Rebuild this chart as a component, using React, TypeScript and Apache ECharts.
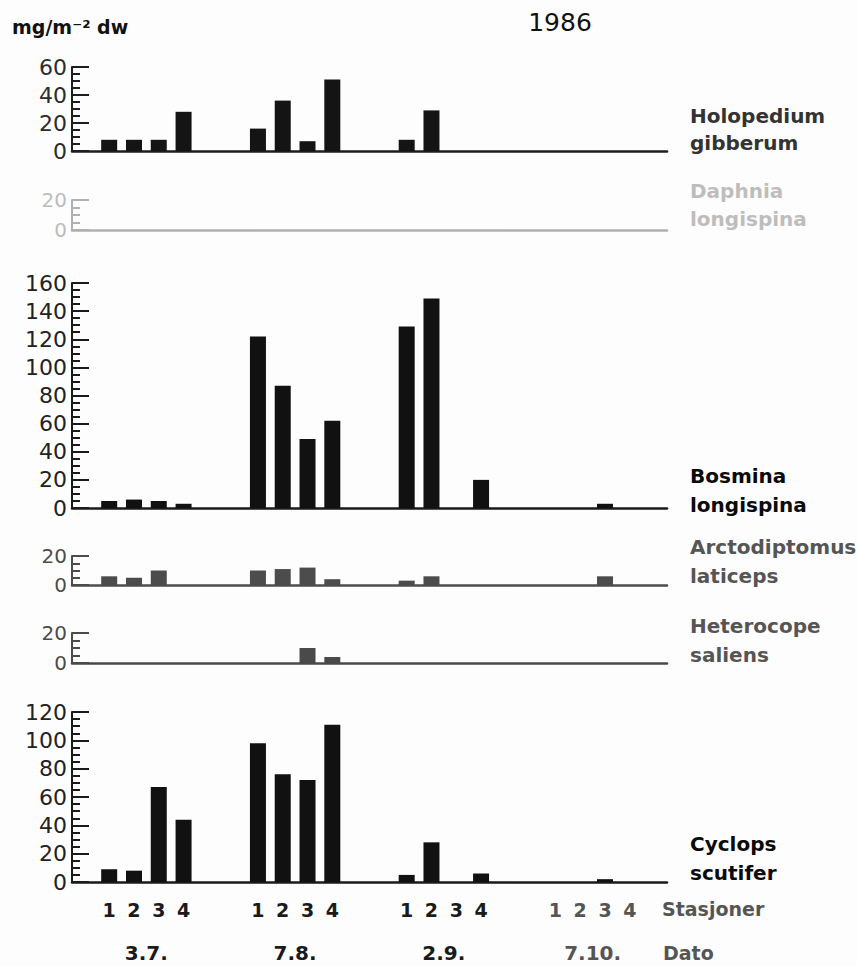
import React, { useEffect, useRef } from "react";
import * as echarts from "echarts";

// Sampling dates and stations
const DATES = ["3.7.", "7.8.", "2.9.", "7.10."];
const STATIONS = ["1", "2", "3", "4"];

// Biomass, mg/m-2 dry weight, one row per date, one value per station
const holopedium = [
  [8, 8, 8, 28],
  [16, 36, 7, 51],
  [8, 29, 0, 0],
  [0, 0, 0, 0],
];
const daphnia = [
  [0, 0, 0, 0],
  [0, 0, 0, 0],
  [0, 0, 0, 0],
  [0, 0, 0, 0],
];
const bosmina = [
  [5, 6, 5, 3],
  [122, 87, 49, 62],
  [129, 149, 0, 20],
  [0, 0, 3, 0],
];
const arctodiptomus = [
  [6, 5, 10, 0],
  [10, 11, 12, 4],
  [3, 6, 0, 0],
  [0, 0, 6, 0],
];
const heterocope = [
  [0, 0, 0, 0],
  [0, 0, 10, 4],
  [0, 0, 0, 0],
  [0, 0, 0, 0],
];
const cyclops = [
  [9, 8, 67, 44],
  [98, 76, 72, 111],
  [5, 28, 0, 6],
  [0, 0, 2, 0],
];

// Y-axis maxima per panel
const Y_MAX = [60, 20, 160, 20, 20, 120];

const FONT = "DejaVu Sans";

// Each date takes six slots: an empty one, four stations, an empty one
const categories: { value: string; textStyle?: any }[] = [];
DATES.forEach((d, di) => {
  const keys = ["pre", ...STATIONS, "post"];
  keys.forEach((k) => {
    categories.push({
      value: `${d}#${k}`,
      textStyle: { color: di === 3 ? "#555" : "#1a1a1a" },
    });
  });
});

const expand = (rows: number[][]) => {
  const out: (number | null)[] = [];
  rows.forEach((r) => {
    out.push(null, ...r, null);
  });
  return out;
};

type Panel = {
  lines: string[];
  data: number[][];
  max: number;
  bar: string;
  axis: string;
  label: string;
  name: string;
  top: number;
  height: number;
  labelSize: number;
};

const panels: Panel[] = [
  { lines: ["Holopedium", "gibberum"], data: holopedium, max: Y_MAX[0], bar: "#141414", axis: "#1e1e1e", label: "#2c2c2c", name: "#333", top: 67, height: 84, labelSize: 22 },
  { lines: ["Daphnia", "longispina"], data: daphnia, max: Y_MAX[1], bar: "#b5b5b5", axis: "#b0b0b0", label: "#bcbcbc", name: "#bdbdbd", top: 200, height: 30, labelSize: 20 },
  { lines: ["Bosmina", "longispina"], data: bosmina, max: Y_MAX[2], bar: "#111", axis: "#1a1a1a", label: "#222", name: "#0a0a0a", top: 283, height: 225, labelSize: 22 },
  { lines: ["Arctodiptomus", "laticeps"], data: arctodiptomus, max: Y_MAX[3], bar: "#4c4c4c", axis: "#4c4c4c", label: "#4c4c4c", name: "#555", top: 556, height: 29, labelSize: 20 },
  { lines: ["Heterocope", "saliens"], data: heterocope, max: Y_MAX[4], bar: "#4a4a4a", axis: "#4a4a4a", label: "#4a4a4a", name: "#555", top: 633, height: 30, labelSize: 20 },
  { lines: ["Cyclops", "scutifer"], data: cyclops, max: Y_MAX[5], bar: "#111", axis: "#1a1a1a", label: "#222", name: "#0a0a0a", top: 712, height: 170, labelSize: 22 },
];

const NAME_Y = [
  [116, 143],
  [191, 219],
  [476, 505],
  [547, 576],
  [626, 655],
  [844, 873],
];

export default function App() {
  const ref = useRef<HTMLDivElement>(null);

  useEffect(() => {
    document.body.style.margin = "0";
    const chart = echarts.init(ref.current!, undefined, { renderer: "svg" });

    const last = panels.length - 1;
    const grids = panels.map((p) => ({
      left: 72,
      right: 190,
      top: p.top,
      height: p.height,
    }));

    const xAxes: any[] = panels.map((p, i) => ({
      type: "category",
      gridIndex: i,
      data: categories,
      boundaryGap: true,
      axisLine: { show: true, lineStyle: { color: p.axis, width: 2.5 } },
      axisTick: { show: false },
      axisLabel:
        i === last
          ? {
              show: true,
              interval: 0,
              margin: 18,
              fontFamily: FONT,
              fontSize: 19,
              fontWeight: "bold",
              formatter: (v: string) => {
                const k = v.split("#")[1];
                return STATIONS.includes(k) ? k : "";
              },
            }
          : { show: false },
    }));
    // Date row under the station numbers
    xAxes.push({
      type: "category",
      gridIndex: last,
      position: "bottom",
      offset: 43,
      data: DATES.map((d, i) => ({
        value: d,
        textStyle: { color: i === 3 ? "#555" : "#1a1a1a" },
      })),
      axisLine: { show: false },
      axisTick: { show: false },
      axisLabel: { interval: 0, margin: 18, fontFamily: FONT, fontSize: 20, fontWeight: "bold" },
    });

    const yAxes = panels.map((p, i) => ({
      type: "value",
      gridIndex: i,
      min: 0,
      max: p.max,
      interval: 20,
      splitLine: { show: false },
      axisLine: { show: true, lineStyle: { color: p.axis, width: 2 } },
      axisTick: { show: true, inside: true, length: 17, lineStyle: { color: p.axis, width: 2 } },
      minorTick: { show: true, splitNumber: 4, length: 8, lineStyle: { color: p.axis, width: 2 } },
      axisLabel: {
        margin: 5,
        color: p.label,
        fontFamily: FONT,
        fontSize: p.labelSize,
      },
    }));

    const series = panels.map((p, i) => ({
      type: "bar",
      xAxisIndex: i,
      yAxisIndex: i,
      data: expand(p.data),
      barWidth: 16,
      itemStyle: { color: p.bar },
      silent: true,
    }));

    const graphic: any[] = [
      {
        type: "text",
        x: 12,
        y: 27,
        style: {
          text: "mg/m⁻² dw",
          fontFamily: FONT,
          fontSize: 19,
          fontWeight: "bold",
          fill: "#111",
          verticalAlign: "middle",
        },
      },
      {
        type: "text",
        x: 560,
        y: 22,
        style: {
          text: "1986",
          fontFamily: FONT,
          fontSize: 25,
          fill: "#111",
          align: "center",
          verticalAlign: "middle",
        },
      },
      {
        type: "text",
        x: 662,
        y: 909,
        style: { text: "Stasjoner", fontFamily: FONT, fontSize: 19, fontWeight: "bold", fill: "#555", verticalAlign: "middle" },
      },
      {
        type: "text",
        x: 663,
        y: 953,
        style: { text: "Dato", fontFamily: FONT, fontSize: 19, fontWeight: "bold", fill: "#555", verticalAlign: "middle" },
      },
    ];
    panels.forEach((p, i) => {
      p.lines.forEach((line, j) => {
        graphic.push({
          type: "text",
          x: 690,
          y: NAME_Y[i][j],
          style: {
            text: line,
            fontFamily: FONT,
            fontSize: 20,
            fontWeight: "bold",
            fill: p.name,
            verticalAlign: "middle",
          },
        });
      });
    });

    chart.setOption({
      animation: false,
      backgroundColor: "#fdfdfd",
      grid: grids,
      xAxis: xAxes,
      yAxis: yAxes,
      series,
      graphic,
    });

    return () => chart.dispose();
  }, []);

  return <div ref={ref} style={{ width: 857, height: 966 }} />;
}
